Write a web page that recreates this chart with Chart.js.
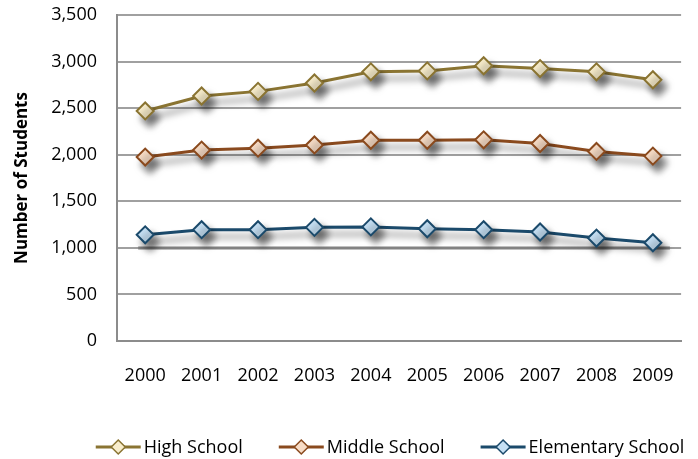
<!DOCTYPE html>
<html>
<head>
<meta charset="utf-8">
<script src="https://cdn.jsdelivr.net/npm/chart.js@4/dist/chart.umd.min.js"></script>
<style>
  html, body { margin: 0; padding: 0; background: #ffffff; }
  #wrap { width: 698px; height: 459px; }
</style>
</head>
<body>
<div id="wrap"><canvas id="enrollment" width="698" height="459"></canvas></div>
<script>
// School enrollment, 2000-2009
const years = ['2000', '2001', '2002', '2003', '2004', '2005', '2006', '2007', '2008', '2009'];
const highSchool = [2470, 2630, 2680, 2770, 2890, 2900, 2955, 2925, 2890, 2805];
const middleSchool = [1975, 2050, 2070, 2105, 2155, 2155, 2160, 2120, 2035, 1985];
const elementarySchool = [1140, 1195, 1195, 1220, 1225, 1205, 1195, 1170, 1105, 1055];
const seriesNames = ['High School', 'Middle School', 'Elementary School'];
const yMin = 0, yMax = 3500, yStep = 500;
const axisTitle = 'Number of Students';
const emphasisValue = 1000;

const FONT = '"Open Sans", "DejaVu Sans", sans-serif';
const lineColors = ['#8a7432', '#8a4a1e', '#1b4a6b'];
const fillColors = ['#f8edcc', '#f7dcc6', '#c6e0f4'];

// soft drop shadow under each series
const dropShadow = {
  id: 'dropShadow',
  beforeDatasetDraw(chart) {
    const c = chart.ctx;
    c.save();
    c.shadowColor = 'rgba(0,0,0,0.5)';
    c.shadowBlur = 7;
    c.shadowOffsetX = 5;
    c.shadowOffsetY = 7;
  },
  afterDatasetDraw(chart) {
    chart.ctx.restore();
  }
};

// heavier rule on the 1,000 grid line
const emphasisRule = {
  id: 'emphasisRule',
  beforeDatasetsDraw(chart) {
    const { ctx, scales: { x, y } } = chart;
    const yy = Math.round(y.getPixelForValue(emphasisValue));
    ctx.save();
    ctx.strokeStyle = '#828282';
    ctx.lineWidth = 3;
    ctx.beginPath();
    ctx.moveTo(x.getPixelForValue(0) - 7, yy);
    ctx.lineTo(x.getPixelForValue(years.length - 1) + 17, yy);
    ctx.stroke();
    ctx.restore();
  }
};

// legend: short line with a diamond, followed by the series name
const lineLegend = {
  id: 'lineLegend',
  afterDraw(chart) {
    const ctx = chart.ctx;
    const sym = 45, textGap = 3, itemGap = 36;
    ctx.save();
    ctx.font = '18px ' + FONT;
    ctx.textBaseline = 'middle';
    const widths = chart.data.datasets.map(d => ctx.measureText(d.label).width);
    const total = widths.reduce((a, w) => a + sym + textGap + w, 0) + itemGap * (widths.length - 1);
    let x = 390 - total / 2;
    const yc = 447;
    chart.data.datasets.forEach((d, i) => {
      ctx.strokeStyle = d.borderColor;
      ctx.lineWidth = 3;
      ctx.beginPath();
      ctx.moveTo(x, yc);
      ctx.lineTo(x + sym, yc);
      ctx.stroke();
      const cx = x + sym / 2, r = 7;
      ctx.beginPath();
      ctx.moveTo(cx, yc - r);
      ctx.lineTo(cx + r, yc);
      ctx.lineTo(cx, yc + r);
      ctx.lineTo(cx - r, yc);
      ctx.closePath();
      ctx.fillStyle = d.pointBackgroundColor;
      ctx.fill();
      ctx.lineWidth = 1.5;
      ctx.stroke();
      ctx.fillStyle = '#000000';
      ctx.fillText(d.label, x + sym + textGap, yc + 1);
      x += sym + textGap + widths[i] + itemGap;
    });
    ctx.restore();
  }
};

const seriesValues = [highSchool, middleSchool, elementarySchool];
const datasets = seriesValues.map((vals, i) => ({
  label: seriesNames[i],
  data: vals,
  borderColor: lineColors[i],
  borderWidth: 3,
  pointStyle: 'rectRot',
  pointRadius: 8.5,
  pointHoverRadius: 8.5,
  pointBackgroundColor: fillColors[i],
  pointBorderColor: lineColors[i],
  pointBorderWidth: 2,
  tension: 0,
  fill: false
}));

new Chart(document.getElementById('enrollment'), {
  type: 'line',
  data: { labels: years, datasets },
  options: {
    responsive: false,
    animation: false,
    layout: { padding: { top: 15, right: 6, bottom: 60, left: 0 } },
    plugins: {
      legend: { display: false },
      tooltip: { enabled: false }
    },
    scales: {
      x: {
        offset: true,
        grid: { display: false, drawTicks: false },
        border: { display: true, color: '#8c8c8c', width: 2 },
        ticks: { color: '#000000', padding: 24, font: { family: FONT, size: 18 } },
        afterFit(scale) { scale.height = 58; }
      },
      y: {
        min: yMin,
        max: yMax,
        ticks: {
          stepSize: yStep,
          color: '#000000',
          padding: 20,
          font: { family: FONT, size: 18 },
          callback: v => Number(v).toLocaleString('en-US')
        },
        grid: { color: '#a0a0a0', lineWidth: 2, drawTicks: false },
        border: { display: true, color: '#8c8c8c', width: 2 },
        title: {
          display: true,
          text: axisTitle,
          color: '#000000',
          padding: { top: 12, bottom: 0 },
          font: { family: FONT, size: 17, weight: 'bold' }
        },
        afterFit(scale) {
          scale.width = 117;
          scale.paddingTop = 0;
          scale.paddingBottom = 0;
        }
      }
    }
  },
  plugins: [dropShadow, emphasisRule, lineLegend]
});
</script>
</body>
</html>
